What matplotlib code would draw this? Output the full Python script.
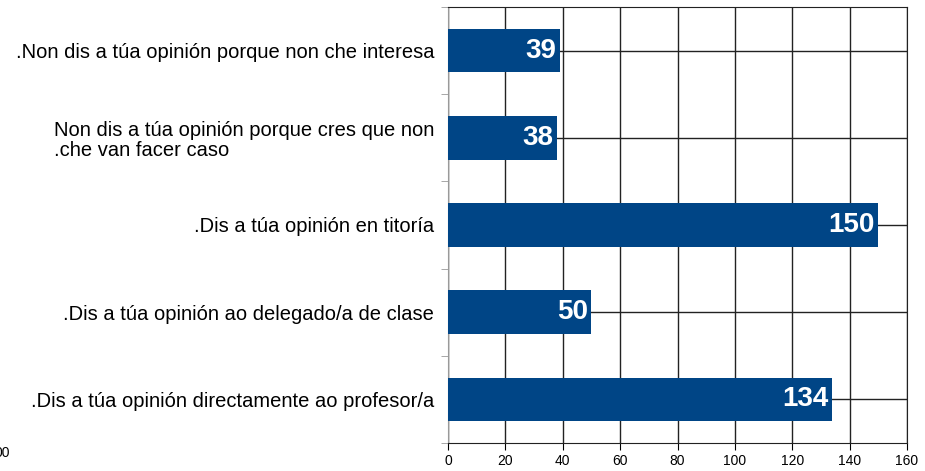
import matplotlib.pyplot as plt
import numpy as np

# categories from top to bottom
categories = [
    ".Non dis a túa opinión porque non che interesa",
    "Non dis a túa opinión porque cres que non\n.che van facer caso",
    ".Dis a túa opinión en titoría",
    ".Dis a túa opinión ao delegado/a de clase",
    ".Dis a túa opinión directamente ao profesor/a",
]
values = [39, 38, 150, 50, 134]
x_ticks = [0, 20, 40, 60, 80, 100, 120, 140, 160]

plt.rcParams['font.family'] = ['Liberation Sans', 'DejaVu Sans']

fig = plt.figure(figsize=(9.25, 4.71), dpi=100)
ax = fig.add_axes([448 / 925, 1 - 443 / 471, (907 - 448) / 925, (443 - 7) / 471])

n = len(categories)
ypos = np.arange(n)[::-1]  # first category on top

ax.barh(ypos, values, height=0.5, color='#004586', zorder=3)
ax.set_xlim(0, 160)
ax.set_ylim(-0.5, n - 0.5)

# grid
for x in x_ticks:
    ax.axvline(x, color='#222222', lw=1, zorder=1)
for y in ypos:
    ax.axhline(y, color='#222222', lw=1, zorder=1)

ax.set_xticks(x_ticks)
ax.set_xticklabels([str(t) for t in x_ticks], fontsize=10)
ax.tick_params(axis='x', direction='out', length=5, color='black', pad=3)

# category boundaries as minor ticks, labels at centres
ax.set_yticks(np.arange(-0.5, n, 1.0), minor=True)
ax.set_yticks(ypos)
ax.set_yticklabels(categories, fontsize=14.5, linespacing=1.05)
for lbl in ax.get_yticklabels():
    lbl.set_multialignment('left')
ax.tick_params(axis='y', which='major', length=0, pad=10)
ax.tick_params(axis='y', which='minor', direction='out', length=5, color='#999999')

for side in ['top', 'right', 'bottom']:
    ax.spines[side].set_color('#222222')
ax.spines['left'].set_color('#999999')

for y, v in zip(ypos, values):
    ax.text(v - 1.3, y, str(v), color='white', fontsize=20, fontweight='bold',
            ha='right', va='center', zorder=4)

fig.text(-0.006, 1 - 453 / 471, "00", fontsize=10, ha='left', va='center')

fig.savefig('out.png', dpi=100)
